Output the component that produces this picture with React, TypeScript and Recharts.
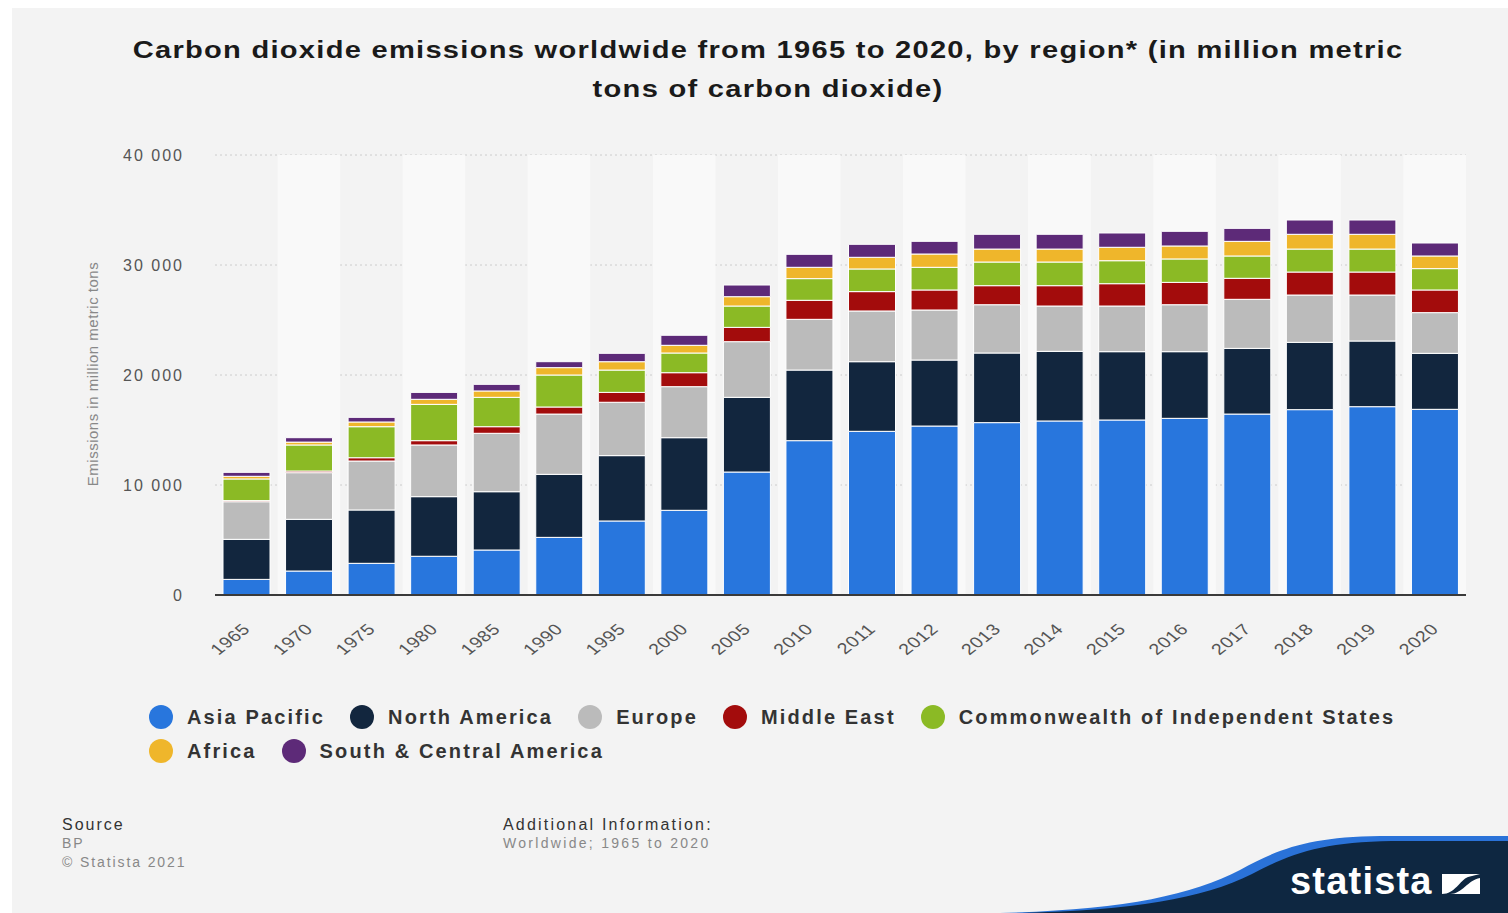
import React from "react";
import {
  BarChart,
  Bar,
  XAxis,
  YAxis,
  CartesianGrid,
  ReferenceArea,
} from "recharts";

const years = [
  "1965", "1970", "1975", "1980", "1985", "1990", "1995", "2000", "2005", "2010",
  "2011", "2012", "2013", "2014", "2015", "2016", "2017", "2018", "2019", "2020",
];

const asiaPacific = [
  1420, 2180, 2880, 3520, 4090, 5240, 6730, 7700, 11180, 14030,
  14880, 15360, 15670, 15820, 15910, 16060, 16450, 16850, 17120, 16880,
];
const northAmerica = [
  3640, 4700, 4850, 5420, 5300, 5730, 5940, 6600, 6790, 6420,
  6330, 6000, 6330, 6330, 6210, 6060, 5970, 6120, 5970, 5090,
];
const europe = [
  3420, 4240, 4450, 4700, 5310, 5480, 4850, 4640, 5060, 4610,
  4610, 4550, 4390, 4120, 4150, 4270, 4460, 4300, 4180, 3700,
];
const middleEast = [
  100, 150, 300, 390, 600, 640, 900, 1270, 1300, 1730,
  1760, 1820, 1730, 1850, 2030, 2030, 1910, 2090, 2090, 2060,
];
const cis = [
  1970, 2370, 2820, 3300, 2670, 2910, 2030, 1790, 1940, 1970,
  2060, 2060, 2150, 2150, 2090, 2130, 2030, 2090, 2090, 1940,
];
const africa = [
  240, 260, 430, 460, 580, 670, 760, 700, 850, 1030,
  1060, 1210, 1180, 1180, 1220, 1180, 1330, 1340, 1340, 1150,
];
const southCentralAmerica = [
  360, 400, 420, 630, 600, 540, 760, 910, 1060, 1180,
  1180, 1150, 1340, 1340, 1300, 1330, 1180, 1300, 1300, 1180,
];

const yTicks = [0, 10000, 20000, 30000, 40000];

const series = [
  { key: "asiaPacific", name: "Asia Pacific", color: "#2876dd", values: asiaPacific },
  { key: "northAmerica", name: "North America", color: "#12263e", values: northAmerica },
  { key: "europe", name: "Europe", color: "#bbbbbb", values: europe },
  { key: "middleEast", name: "Middle East", color: "#a30c0c", values: middleEast },
  { key: "cis", name: "Commonwealth of Independent States", color: "#8bba25", values: cis },
  { key: "africa", name: "Africa", color: "#efb62b", values: africa },
  { key: "southCentralAmerica", name: "South & Central America", color: "#5d2a78", values: southCentralAmerica },
];

const rows = years.map((year, i) => {
  const row: Record<string, string | number> = { year };
  series.forEach((s) => {
    row[s.key] = s.values[i];
  });
  return row;
});

const FONT = '"Liberation Sans", Arial, Helvetica, sans-serif';

const formatTick = (v: number) => v.toLocaleString("en-US").replace(/,/g, " ");

// the source picture is stretched sideways, so the rotated labels get a scaleX too
const XTick = ({ x, y, payload }: any) => (
  <g transform={`translate(${x + 5} ${y + 33}) scale(1.27 1) rotate(-45)`}>
    <text x={0} y={0} textAnchor="end" fill="#555" fontSize={15.5} fontFamily={FONT} letterSpacing={0.5}>
      {payload.value}
    </text>
  </g>
);

const YTick = ({ x, y, payload }: any) => (
  <text
    x={x}
    y={y}
    dy="0.36em"
    textAnchor="end"
    fill="#555"
    fontSize={16}
    fontFamily={FONT}
    letterSpacing={2}
  >
    {formatTick(payload.value)}
  </text>
);

const StatistaLogo = () => (
  <svg width={508} height={93} style={{ position: "absolute", left: 988, top: 812 }}>
    <path d="M 0 93 C 120 90, 190 76, 240 50 C 280 28, 310 17, 380 16 L 508 16 L 508 93 Z" fill="#2a72d8" />
    <path d="M 22 93 C 132 90, 202 79, 252 54 C 292 33, 322 22, 392 21 L 508 21 L 508 93 Z" fill="#0e2741" />
    <text x={290} y={74} fill="#fff" fontSize={38} fontWeight="bold" fontFamily={FONT} letterSpacing={1.2}>
      statista
    </text>
    <rect x={442} y={54} width={38} height={20} fill="#fff" />
    <path d="M 442 74 C 455 74, 460 60, 468 57 L 480 54 L 480 58 C 468 60, 462 74, 450 74 Z" fill="#0e2741" />
  </svg>
);

export default function App() {
  return (
    <div
      style={{
        position: "absolute",
        left: 12,
        top: 8,
        width: 1496,
        height: 905,
        background: "#f3f3f3",
        fontFamily: FONT,
        overflow: "hidden",
      }}
    >
      <div
        style={{
          position: "absolute",
          top: 23,
          left: 8,
          width: 1496,
          textAlign: "center",
          fontSize: 23,
          fontWeight: "bold",
          lineHeight: "39px",
          letterSpacing: 1,
          color: "#1a1a1a",
          transform: "scaleX(1.265)",
          transformOrigin: "center",
        }}
      >
        Carbon dioxide emissions worldwide from 1965 to 2020, by region* (in million metric
        <br />
        tons of carbon dioxide)
      </div>

      <div style={{ position: "absolute", left: 0, top: 0 }}>
        <BarChart
          width={1496}
          height={700}
          data={rows}
          margin={{ top: 147, right: 42, bottom: 53, left: 113 }}
          barSize={47}
        >
          {years
            .filter((_, i) => i % 2 === 1)
            .map((y) => (
              <ReferenceArea key={y} x1={y} x2={y} fill="#f9f9f9" fillOpacity={1} stroke="none" />
            ))}
          <CartesianGrid vertical={false} stroke="#cccccc" strokeDasharray="2 3" />
          <XAxis
            dataKey="year"
            interval={0}
            height={60}
            tickLine={false}
            tickSize={0}
            axisLine={{ stroke: "#3a3a3a", strokeWidth: 2 }}
            tick={<XTick />}
          />
          <YAxis
            width={90}
            domain={[0, 40000]}
            ticks={yTicks}
            tickLine={false}
            axisLine={false}
            tickSize={0}
            tickMargin={31}
            tick={<YTick />}
          />
          {series.map((s) => (
            <Bar
              key={s.key}
              dataKey={s.key}
              name={s.name}
              stackId="co2"
              fill={s.color}
              stroke="#ffffff"
              strokeWidth={1}
              isAnimationActive={false}
            />
          ))}
        </BarChart>
      </div>

      <div
        style={{
          position: "absolute",
          left: 80,
          top: 366,
          transform: "translate(-50%, -50%) rotate(-90deg)",
          whiteSpace: "nowrap",
          fontSize: 15,
          letterSpacing: 0.5,
          color: "#888",
        }}
      >
        Emissions in million metric tons
      </div>

      <div
        style={{
          position: "absolute",
          left: 137,
          top: 697,
          width: 1300,
          display: "flex",
          flexWrap: "wrap",
          columnGap: 25,
          rowGap: 10,
        }}
      >
        {series.map((s) => (
          <div key={s.key} style={{ display: "flex", alignItems: "center", height: 24 }}>
            <span
              style={{
                width: 24,
                height: 24,
                borderRadius: "50%",
                background: s.color,
                marginRight: 14,
                display: "inline-block",
              }}
            />
            <span style={{ fontSize: 20, fontWeight: "bold", color: "#333", letterSpacing: 2.15 }}>
              {s.name}
            </span>
          </div>
        ))}
      </div>

      <div style={{ position: "absolute", left: 50, top: 807, lineHeight: "19px" }}>
        <div style={{ fontSize: 16, color: "#333", letterSpacing: 2 }}>Source</div>
        <div style={{ fontSize: 14, color: "#888", letterSpacing: 1.9 }}>BP</div>
        <div style={{ fontSize: 14, color: "#888", letterSpacing: 1.9 }}>© Statista 2021</div>
      </div>
      <div style={{ position: "absolute", left: 491, top: 807, lineHeight: "19px" }}>
        <div style={{ fontSize: 16, color: "#333", letterSpacing: 2.2 }}>Additional Information:</div>
        <div style={{ fontSize: 14, color: "#888", letterSpacing: 2.3 }}>Worldwide; 1965 to 2020</div>
      </div>

      <StatistaLogo />
    </div>
  );
}
